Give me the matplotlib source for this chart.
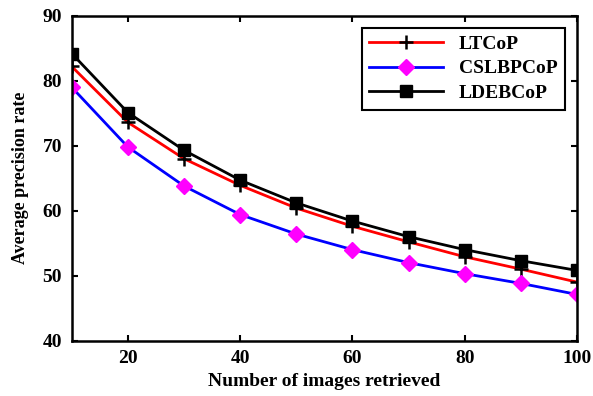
import matplotlib
matplotlib.use('Agg')
import matplotlib.pyplot as plt

n_images = [10, 20, 30, 40, 50, 60, 70, 80, 90, 100]
ltcop = [82.2, 73.6, 68.0, 63.9, 60.4, 57.6, 55.2, 52.9, 51.0, 49.0]
cslbpcop = [79.0, 69.8, 63.8, 59.4, 56.4, 54.0, 52.0, 50.3, 48.8, 47.1]
ldebcop = [84.2, 75.1, 69.3, 64.7, 61.2, 58.4, 56.0, 54.0, 52.3, 50.8]

plt.rcParams['font.family'] = 'Liberation Serif'
plt.rcParams['font.weight'] = 'bold'

fig, ax = plt.subplots(figsize=(5.93, 3.96), dpi=100)
fig.subplots_adjust(left=0.121, right=0.973, top=0.960, bottom=0.140)

ax.plot(n_images, ltcop, color='red', lw=2, marker='+', ms=10, mew=1.8,
        mec='black', label='LTCoP')
ax.plot(n_images, cslbpcop, color='blue', lw=2, marker='D', ms=8,
        mfc='magenta', mec='magenta', label='CSLBPCoP')
ax.plot(n_images, ldebcop, color='black', lw=2, marker='s', ms=8,
        label='LDEBCoP')

ax.set_xlim(10, 100)
ax.set_ylim(40, 90)
ax.set_xticks([20, 40, 60, 80, 100])
ax.set_yticks([40, 50, 60, 70, 80, 90])
ax.tick_params(direction='in', labelsize=14, width=1.5, length=4,
               top=True, right=True, pad=7)
for s in ax.spines.values():
    s.set_linewidth(1.8)

ax.set_xlabel('Number of images retrieved', fontsize=14, fontweight='bold',
              labelpad=4)
ax.set_ylabel('Average precision rate', fontsize=13, fontweight='bold',
              labelpad=10)

leg = ax.legend(loc='upper right', fontsize=14, fancybox=False,
                edgecolor='black', framealpha=1, handlelength=3.8,
                borderaxespad=0.6, labelspacing=0.35)
leg.get_frame().set_linewidth(1.5)

plt.savefig('out.png')
